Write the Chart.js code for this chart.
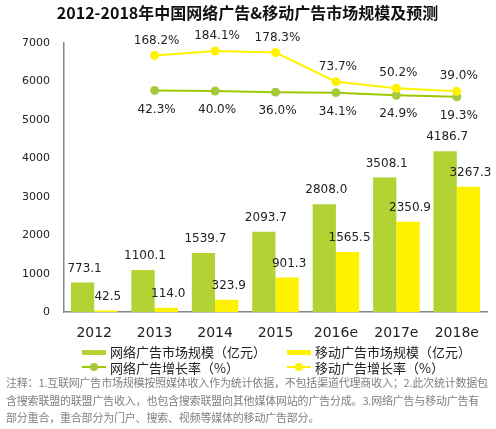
<!DOCTYPE html>
<html>
<head>
<meta charset="utf-8">
<script src="https://cdn.jsdelivr.net/npm/chart.js@4.4.1/dist/chart.umd.min.js"></script>
<style>
  body { margin: 0; background: #fff; font-family: "Noto Sans CJK SC", sans-serif; }
  #wrap { position: relative; width: 496px; height: 429px; overflow: hidden; }
  #chartBox { position: absolute; left: 0; top: 0; width: 496px; height: 347px; }
  .leg { position: absolute; font-size: 13px; color: #222; line-height: 15px; white-space: nowrap; }
  .sw { position: absolute; }
  #note { position: absolute; left: 6px; top: 374px; width: 482px; font-size: 11px; letter-spacing: -0.2px; line-height: 17.5px; color: #808080; }
</style>
</head>
<body>
<div id="wrap">
  <div id="chartBox"><canvas id="mainChart"></canvas></div>
  <div class="sw" style="left:82px;top:350px;width:24px;height:5px;background:#b3d234"></div>
  <div class="leg" style="left:110px;top:344px">网络广告市场规模（亿元）</div>
  <div class="sw" style="left:287px;top:350px;width:24px;height:5px;background:#fff200"></div>
  <div class="leg" style="left:315px;top:344px">移动广告市场规模（亿元）</div>
  <div class="sw" style="left:82px;top:366px;width:24px;height:2px;background:#9cc800"></div>
  <div class="sw" style="left:90px;top:363px;width:8px;height:8px;border-radius:4px;background:#a5c93c"></div>
  <div class="leg" style="left:110px;top:360px">网络广告增长率（%）</div>
  <div class="sw" style="left:287px;top:366px;width:24px;height:2px;background:#fff200"></div>
  <div class="sw" style="left:295px;top:363px;width:8px;height:8px;border-radius:4px;background:#fff200"></div>
  <div class="leg" style="left:315px;top:360px">移动广告增长率（%）</div>
  <div id="note">注释：1.互联网广告市场规模按照媒体收入作为统计依据，不包括渠道代理商收入；2.此次统计数据包含搜索联盟的联盟广告收入，也包含搜索联盟向其他媒体网站的广告分成。3.网络广告与移动广告有部分重合，重合部分为门户、搜索、视频等媒体的移动广告部分。</div>
</div>
<script>
// Chart data
const years = ["2012", "2013", "2014", "2015", "2016e", "2017e", "2018e"];
const netSize = [773.1, 1100.1, 1539.7, 2093.7, 2808.0, 3508.1, 4186.7];
const mobileSize = [42.5, 114.0, 323.9, 901.3, 1565.5, 2350.9, 3267.3];
const netGrowth = [null, 42.3, 40.0, 36.0, 34.1, 24.9, 19.3];
const mobileGrowth = [null, 168.2, 184.1, 178.3, 73.7, 50.2, 39.0];

const ctx = document.getElementById("mainChart");

// draws value labels above bars / around line points
const valueLabels = {
  id: "valueLabels",
  afterDatasetsDraw(chart) {
    const c = chart.ctx;
    c.save();
    c.font = "12px 'DejaVu Sans', sans-serif";
    c.fillStyle = "#222";
    c.textAlign = "center";
    c.textBaseline = "middle";
    chart.data.datasets.forEach((ds, i) => {
      const meta = chart.getDatasetMeta(i);
      meta.data.forEach((el, j) => {
        const v = ds.data[j];
        if (v === null) return;
        let text, y;
        if (ds.type === "line") {
          text = v.toFixed(1) + "%";
          y = i === 2 ? el.y + 19 : el.y - 15;
        } else {
          text = v.toFixed(1);
          y = el.y - 14;
        }
        c.fillText(text, el.x + 2, y);
      });
    });
    c.restore();
  },
};

const mainChart = new Chart(ctx, {
  data: {
    labels: years,
    datasets: [
      {
        type: "bar",
        label: "网络广告市场规模（亿元）",
        data: netSize,
        backgroundColor: "#b3d234",
        yAxisID: "y",
        order: 3,
      },
      {
        type: "bar",
        label: "移动广告市场规模（亿元）",
        data: mobileSize,
        backgroundColor: "#fff200",
        yAxisID: "y",
        order: 4,
      },
      {
        type: "line",
        label: "网络广告增长率（%）",
        data: netGrowth,
        borderColor: "#9cc800",
        backgroundColor: "#a5c93c",
        pointBackgroundColor: "#a5c93c",
        pointBorderWidth: 0,
        pointRadius: 4.5,
        borderWidth: 2,
        yAxisID: "y1",
        order: 1,
      },
      {
        type: "line",
        label: "移动广告增长率（%）",
        data: mobileGrowth,
        borderColor: "#fff200",
        backgroundColor: "#fff200",
        pointBackgroundColor: "#fff200",
        pointBorderWidth: 0,
        pointRadius: 4.5,
        borderWidth: 2,
        yAxisID: "y1",
        order: 0,
      },
    ],
  },
  options: {
    responsive: true,
    maintainAspectRatio: false,
    animation: false,
    datasets: {
      bar: { categoryPercentage: 0.77, barPercentage: 1.0 },
    },
    layout: { padding: { left: 8, right: 9, top: 0, bottom: 0 } },
    plugins: {
      legend: { display: false },
      tooltip: { enabled: false },
      title: {
        display: true,
        text: "2012-2018年中国网络广告&移动广告市场规模及预测",
        color: "#111",
        font: { family: "'Noto Sans CJK SC', sans-serif", size: 16, weight: "bold" },
        padding: { top: 3, bottom: 21 },
      },
    },
    scales: {
      x: {
        grid: { display: false },
        border: { display: true, color: "#888", width: 1.5 },
        ticks: { color: "#222", font: { family: "'DejaVu Sans', sans-serif", size: 14 }, padding: 5 },
      },
      y: {
        min: 0,
        max: 7000,
        grid: { display: false, drawTicks: false },
        border: { display: true, color: "#888", width: 1.5 },
        ticks: {
          stepSize: 1000,
          color: "#222",
          font: { family: "'DejaVu Sans', sans-serif", size: 11 },
          padding: 14,
          callback: (v) => String(v),
        },
      },
      y1: {
        display: false,
        min: -755,
        max: 212,
      },
    },
  },
  plugins: [valueLabels],
});
</script>
</body>
</html>
